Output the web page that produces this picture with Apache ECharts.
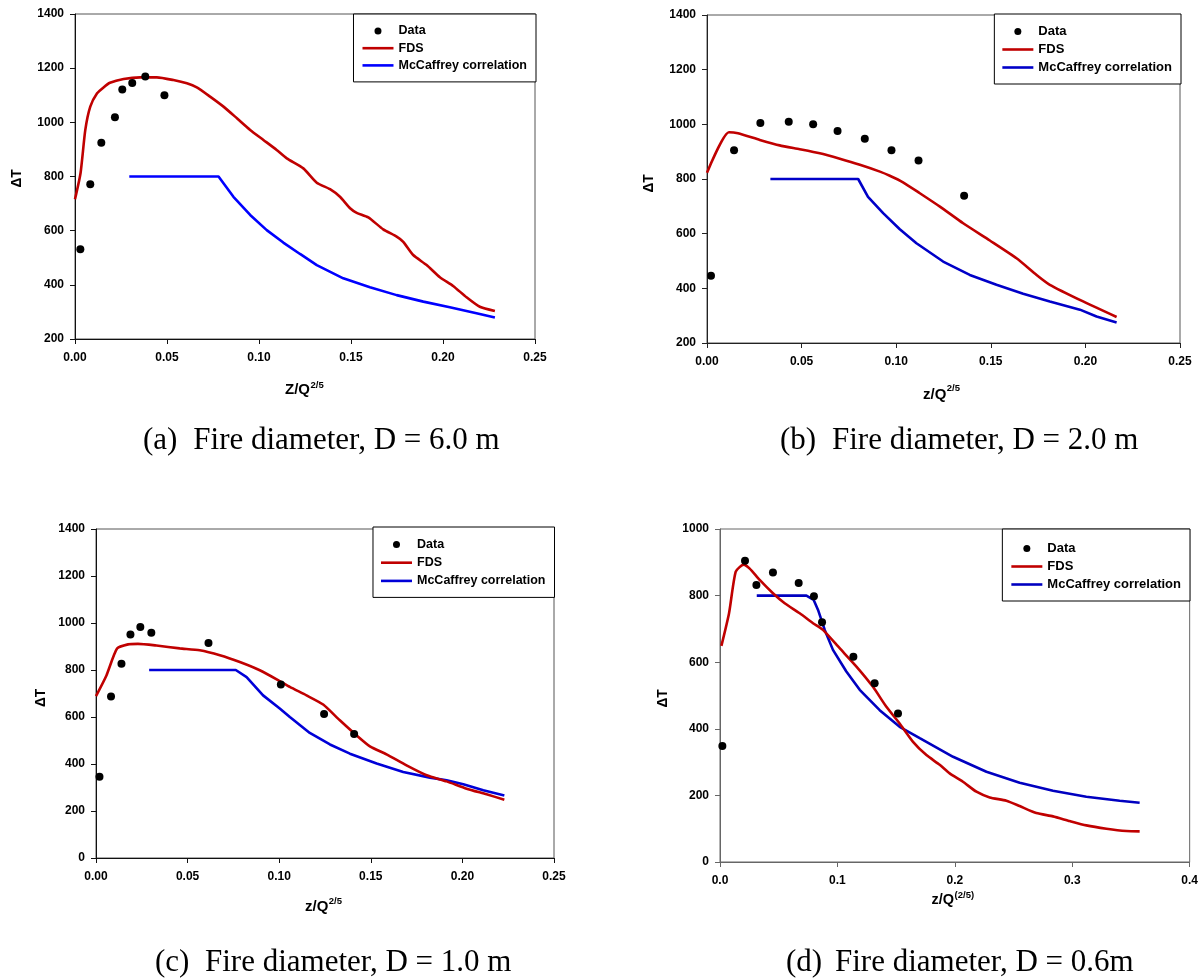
<!DOCTYPE html>
<html>
<head>
<meta charset="utf-8">
<script src="https://cdn.jsdelivr.net/npm/echarts@6/dist/echarts.min.js"></script>
<style>
html,body{margin:0;padding:0;background:#fff;}
#chart{width:1201px;height:979px;}
</style>
</head>
<body>
<div id="chart"></div>
<script>
// ---------- data ----------
// Panel (a) D = 6.0 m
const dataA = [[0.0029,531],[0.0083,771],[0.0143,925],[0.0217,1019],[0.0257,1121],[0.0311,1145],[0.0382,1169],[0.0486,1100]];
const fdsA = [[0,716],[0.003,812],[0.0056,972],[0.0083,1058],[0.012,1107],[0.0155,1129],[0.019,1146],[0.0264,1160],[0.0354,1166],[0.0445,1166],[0.0535,1156],[0.0608,1144],[0.0662,1129],[0.0734,1095],[0.0807,1058],[0.088,1015],[0.0952,972],[0.1024,935],[0.1096,898],[0.1151,867],[0.1241,830],[0.1314,777],[0.1386,753],[0.144,725],[0.1495,683],[0.1531,666],[0.1594,649],[0.1675,605],[0.1748,578],[0.1784,559],[0.1838,510],[0.1911,473],[0.1983,428],[0.2055,396],[0.2128,354],[0.22,319],[0.2282,303]];
const mccA = [[0.0295,800],[0.078,800],[0.0861,725],[0.0952,658],[0.1042,602],[0.1132,556],[0.1223,514],[0.1314,473],[0.1458,424],[0.1603,391],[0.1748,362],[0.1893,338],[0.2037,317],[0.2182,295],[0.2282,279]];

// Panel (b) D = 2.0 m
const dataB = [[0.0021,446],[0.0143,905],[0.0282,1005],[0.0432,1009],[0.0561,1000],[0.069,976],[0.0834,947],[0.0975,905],[0.1118,868],[0.1359,739]];
const fdsB = [[0,823],[0.0116,971],[0.0164,967],[0.0279,943],[0.0384,923],[0.049,909],[0.0596,894],[0.0702,874],[0.0808,852],[0.0914,827],[0.0966,812],[0.1036,788],[0.1125,748],[0.1231,699],[0.1354,638],[0.1495,575],[0.1636,510],[0.1742,449],[0.1812,413],[0.1988,352],[0.2165,295]];
const mccB = [[0.0335,800],[0.0799,800],[0.0851,735],[0.0931,675],[0.1019,616],[0.1107,565],[0.1248,498],[0.1389,449],[0.153,413],[0.1671,380],[0.1812,352],[0.1971,322],[0.2059,297],[0.2165,275]];

// Panel (c) D = 1.0 m
const dataC = [[0.0019,346],[0.0082,687],[0.0139,827],[0.0188,951],[0.0242,983],[0.0302,959],[0.0614,915],[0.1009,738],[0.1245,613],[0.1409,528]];
const fdsC = [[0,689],[0.0057,777],[0.0115,891],[0.0175,909],[0.0229,911],[0.033,904],[0.0457,892],[0.0566,884],[0.0676,863],[0.0785,834],[0.0894,799],[0.1003,753],[0.1058,728],[0.1149,692],[0.124,653],[0.1331,586],[0.1422,522],[0.1495,475],[0.1586,441],[0.1695,394],[0.1805,352],[0.1914,326],[0.2023,295],[0.2132,271],[0.2229,248]];
const mccC = [[0.029,800],[0.0763,800],[0.0822,770],[0.0912,692],[0.1003,636],[0.1058,600],[0.1167,532],[0.1277,483],[0.1386,444],[0.1532,402],[0.1677,366],[0.1823,342],[0.1914,331],[0.2005,314],[0.2114,288],[0.2229,266]];

// Panel (d) D = 0.6 m
const dataD = [[0.002,348],[0.0213,905],[0.031,832],[0.0451,869],[0.067,838],[0.08,798],[0.0869,720],[0.1136,616],[0.1317,537],[0.1516,446]];
const fdsD = [[0.0012,649],[0.0077,747],[0.0134,872],[0.0202,893],[0.0253,881],[0.0338,847],[0.0451,807],[0.0551,777],[0.0679,747],[0.0792,717],[0.0877,697],[0.1019,642],[0.1162,587],[0.1303,526],[0.1417,466],[0.153,416],[0.1644,361],[0.1758,321],[0.1871,292],[0.1956,266],[0.2069,241],[0.2184,211],[0.2297,194],[0.2439,184],[0.2552,168],[0.2694,147],[0.2836,137],[0.2978,123],[0.312,110],[0.3291,100],[0.3461,93],[0.3574,92]];
const mccD = [[0.0313,800],[0.0736,800],[0.0798,787],[0.0835,757],[0.0892,697],[0.0962,637],[0.1076,572],[0.119,517],[0.136,456],[0.153,406],[0.1701,372],[0.1985,316],[0.2269,271],[0.2552,238],[0.2836,214],[0.312,196],[0.3404,184],[0.3574,178]];

// axis ranges / ticks
const xRangeABC = {min: 0, max: 0.25, interval: 0.05};
const xRangeD = {min: 0, max: 0.4, interval: 0.1};
const yRangeAB = {min: 200, max: 1400, interval: 200};
const yRangeC = {min: 0, max: 1400, interval: 200};
const yRangeD = {min: 0, max: 1000, interval: 200};

const seriesNames = ['Data', 'FDS', 'McCaffrey correlation'];
const yTitleText = 'ΔT';
const xTitleMain = ['Z/Q', 'z/Q', 'z/Q', 'z/Q'];
const xTitleSup = ['2/5', '2/5', '2/5', '(2/5)'];
const captions = ['(a)', '(b)', '(c)', '(d)'];
const captionTexts = ['Fire diameter, D = 6.0 m', 'Fire diameter, D = 2.0 m', 'Fire diameter, D = 1.0 m', 'Fire diameter, D = 0.6m'];

// ---------- styling ----------
const SANS = 'Liberation Sans, Arial, Helvetica, sans-serif';
const SERIF = 'Liberation Serif, Times New Roman, serif';
const MONO = 'Liberation Mono, Courier New, monospace';
const RED = '#c00000';
const blues = ['#0000ff', '#0000c8', '#0000d8', '#0000c0'];

const grids = [
  {left: 75, top: 14, width: 460, height: 325},
  {left: 707, top: 15, width: 473, height: 328},
  {left: 96, top: 529, width: 458, height: 329},
  {left: 720, top: 529, width: 470, height: 333}
];
const axisColors = ['#111', '#222', '#111', '#666'];

function xAxisCfg(i, r, digits) {
  return {
    type: 'value', gridIndex: i, min: r.min, max: r.max, interval: r.interval,
    axisLine: {show: true, onZero: false, lineStyle: {color: axisColors[i], width: 1}},
    axisTick: {show: true, inside: false, length: 5, lineStyle: {color: axisColors[i]}},
    splitLine: {show: false},
    axisLabel: {margin: 13, fontFamily: SANS, fontWeight: 'bold', fontSize: 12, color: '#000',
      formatter: v => v.toFixed(digits)}
  };
}
function yAxisCfg(i, r) {
  return {
    type: 'value', gridIndex: i, min: r.min, max: r.max, interval: r.interval,
    axisLine: {show: true, onZero: false, lineStyle: {color: axisColors[i], width: 1}},
    axisTick: {show: true, inside: false, length: 5, lineStyle: {color: axisColors[i]}},
    splitLine: {show: false},
    axisLabel: {margin: 11, fontFamily: SANS, fontWeight: 'bold', fontSize: 12, color: '#000',
      formatter: v => String(Math.round(v))}
  };
}

const panels = [
  {data: dataA, fds: fdsA, mcc: mccA},
  {data: dataB, fds: fdsB, mcc: mccB},
  {data: dataC, fds: fdsC, mcc: mccC},
  {data: dataD, fds: fdsD, mcc: mccD}
];

const series = [];
panels.forEach((p, i) => {
  series.push({name: seriesNames[2], type: 'line', xAxisIndex: i, yAxisIndex: i, data: p.mcc,
    symbol: 'none', showSymbol: false, smooth: false,
    lineStyle: {color: blues[i], width: 2.6}, itemStyle: {color: blues[i]}, z: 2});
  series.push({name: seriesNames[1], type: 'line', xAxisIndex: i, yAxisIndex: i, data: p.fds,
    symbol: 'none', showSymbol: false, smooth: 0.2,
    lineStyle: {color: RED, width: 2.6}, itemStyle: {color: RED}, z: 3});
  series.push({name: seriesNames[0], type: 'scatter', xAxisIndex: i, yAxisIndex: i, data: p.data,
    symbol: 'circle', symbolSize: 8, itemStyle: {color: '#000', opacity: 1}, z: 4});
});

const lineIcon = 'path://M0,0M31,7M0,2.2L31,2.2L31,4.8L0,4.8Z';
const dotIcon = 'path://M0,0M31,7M19,3.5A3.5,3.5,0,1,1,12,3.5A3.5,3.5,0,1,1,19,3.5Z';

const legendBoxes = [
  {right: 1201 - 536, top: 14, pad: [10.5, 9, 10, 9], gap: 4.2, fs: 12.5},
  {right: 1201 - 1181, top: 14, pad: [11, 9, 10, 8], gap: 5, fs: 13},
  {right: 1201 - 554.5, top: 527, pad: [11, 9, 10, 8], gap: 5.2, fs: 12.5},
  {right: 1201 - 1190, top: 529, pad: [13, 9, 10, 9], gap: 5, fs: 13}
];
const legends = legendBoxes.map((b, i) => ({
  orient: 'vertical', right: b.right, top: b.top, padding: b.pad, itemGap: b.gap,
  itemWidth: 31, itemHeight: 7, borderColor: '#000', borderWidth: 1, backgroundColor: '#fff',
  selectedMode: false,
  textStyle: {fontFamily: SANS, fontWeight: 'bold', fontSize: b.fs, color: '#000'},
  data: [
    {name: seriesNames[0], icon: dotIcon, itemStyle: {color: '#000', borderWidth: 0, opacity: 1}},
    {name: seriesNames[1], icon: lineIcon, itemStyle: {color: RED, borderWidth: 0}},
    {name: seriesNames[2], icon: lineIcon, itemStyle: {color: blues[i], borderWidth: 0}}
  ]
}));

// text placement
const yTitlePos = [[17.5, 178], [649.5, 183], [41.5, 697.5], [663.5, 698]];
const xTitlePos = [
  {x: 285, y: 390.3, dy: 5, fs: 15},
  {x: 923, y: 394.5, dy: 6, fs: 15},
  {x: 305, y: 907, dy: 5.5, fs: 15},
  {x: 931.5, y: 899.5, dy: 4.5, fs: 14.5}
];
const capPos = [
  {x: 143, x2: 193.3, y: 441},
  {x: 780, x2: 832, y: 441},
  {x: 155, x2: 205, y: 963},
  {x: 786, x2: 835, y: 963}
];

const measureCtx = document.createElement('canvas').getContext('2d');
function textWidth(t, font) { measureCtx.font = font; return measureCtx.measureText(t).width; }

const graphic = [];
yTitlePos.forEach(p => {
  graphic.push({type: 'text', x: p[0], y: p[1], rotation: Math.PI / 2,
    style: {text: yTitleText, font: 'bold 15px ' + MONO, fill: '#000', align: 'center', verticalAlign: 'middle'}});
});
xTitlePos.forEach((t, i) => {
  const mainFont = 'bold ' + t.fs + 'px ' + SANS;
  const w = textWidth(xTitleMain[i], mainFont);
  graphic.push({type: 'text', x: t.x, y: t.y,
    style: {text: xTitleMain[i], font: mainFont, fill: '#000', align: 'left', verticalAlign: 'middle'}});
  graphic.push({type: 'text', x: t.x + w + 0.5, y: t.y - t.dy,
    style: {text: xTitleSup[i], font: 'bold 9.5px ' + SANS, fill: '#000', align: 'left', verticalAlign: 'middle'}});
});
capPos.forEach((c, i) => {
  graphic.push({type: 'text', x: c.x, y: c.y,
    style: {text: captions[i], font: '31px ' + SERIF, fill: '#000', align: 'left', verticalAlign: 'middle'}});
  graphic.push({type: 'text', x: c.x2, y: c.y,
    style: {text: captionTexts[i], font: '31px ' + SERIF, fill: '#000', align: 'left', verticalAlign: 'middle'}});
});

const chart = echarts.init(document.getElementById('chart'), null, {renderer: 'canvas'});
chart.setOption({
  animation: false,
  backgroundColor: '#fff',
  grid: grids.map((g, i) => Object.assign({show: true, borderColor: i === 3 ? '#666' : '#555', borderWidth: 1, backgroundColor: 'transparent', containLabel: false}, g)),
  xAxis: [xAxisCfg(0, xRangeABC, 2), xAxisCfg(1, xRangeABC, 2), xAxisCfg(2, xRangeABC, 2), xAxisCfg(3, xRangeD, 1)],
  yAxis: [yAxisCfg(0, yRangeAB), yAxisCfg(1, yRangeAB), yAxisCfg(2, yRangeC), yAxisCfg(3, yRangeD)],
  legend: legends,
  series: series,
  graphic: graphic
});
</script>
</body>
</html>
